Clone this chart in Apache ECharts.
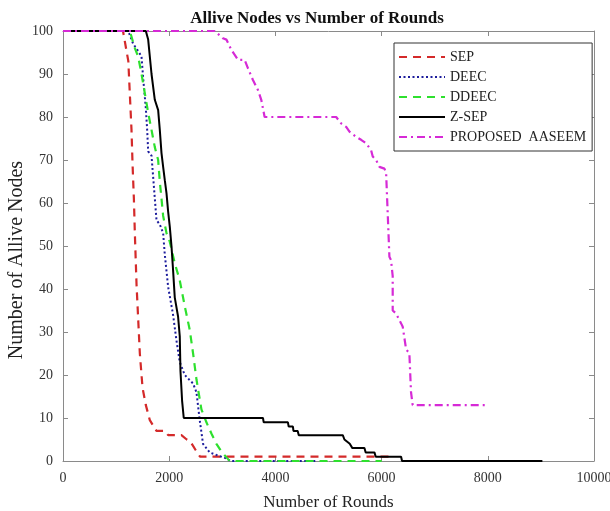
<!DOCTYPE html>
<html>
<head>
<meta charset="utf-8">
<script src="https://cdn.jsdelivr.net/npm/echarts@6/dist/echarts.min.js"></script>
<style>html,body{margin:0;padding:0;background:#fff;}#c{width:610px;height:511px;}</style>
</head>
<body>
<div id="c"></div>
<script>
var seriesNames = ['SEP', 'DEEC', 'DDEEC', 'Z-SEP', 'PROPOSED  AASEEM'];
var xTicks = [0, 2000, 4000, 6000, 8000, 10000];
var yTicks = [0, 10, 20, 30, 40, 50, 60, 70, 80, 90, 100];

var sep = [[0,100],[1130,100],[1230,93],[1260,85],[1290,77],[1310,69],[1335,61],[1353,53],[1385,41],[1416,33],[1447,25],[1498,17],[1560,13],[1635,9.5],[1760,7],[1920,7],[1980,6],[2230,6],[2330,5],[2400,4.5],[2500,2.5],[2580,1],[6130,1],[6160,0]];
var deec = [[0,100],[1228,100],[1322,97],[1435,95],[1479,94],[1510,89],[1560,82],[1585,77],[1604,72],[1667,71],[1698,66],[1761,56],[1823,55],[1886,53],[1917,48],[1980,40.5],[2073,34],[2137,28],[2199,23],[2293,20],[2450,18],[2513,16],[2575,9.5],[2637,4],[2763,2],[2889,1.4],[3077,0.6],[3150,0],[4770,0]];
var ddeec = [[0,100],[1259,100],[1353,96],[1416,94],[1479,90],[1541,85.5],[1604,81],[1667,77],[1729,73],[1792,70],[1823,65],[1855,61],[1886,57],[1949,53],[2011,51],[2105,46],[2199,42],[2293,36],[2387,30.5],[2450,25],[2513,19],[2607,12],[2701,9],[2795,6.4],[2889,4],[2983,2.2],[3139,0],[6000,0]];
var zsep = [[0,100],[1560,100],[1604,98],[1667,90],[1729,84],[1792,81.6],[1823,77],[1855,71.6],[1886,68.4],[1917,65.3],[1949,62.3],[1980,58],[2011,54.5],[2043,50],[2073,44.4],[2105,38],[2167,33.6],[2199,29],[2212,21],[2243,14],[2274,10],[3766,10],[3780,9],[4236,9],[4250,8],[4330,8],[4340,7],[4420,7],[4440,6],[5269,6],[5300,5],[5400,4],[5450,3],[5677,3],[5700,2],[5865,2],[5890,1],[6367,1],[6385,0],[9028,0]];
var aaseem = [[0,100],[2857,100],[3013,98.3],[3077,98],[3171,95.6],[3296,93.3],[3421,93.3],[3484,91.3],[3577,88.6],[3671,86.3],[3734,84],[3797,80],[5144,80],[5238,78.5],[5333,77.7],[5395,76.6],[5520,75.4],[5614,74.7],[5708,73.9],[5802,72.3],[5833,70.8],[5896,70],[5959,68.4],[6053,68],[6085,67],[6147,47.5],[6178,46.7],[6209,43],[6209,35],[6272,34.3],[6367,32],[6398,31.2],[6461,26],[6523,25],[6554,16],[6585,13],[8013,13]];

var serif = 'Liberation Serif';
var axisColor = '#8a8a8a';
var chart = echarts.init(document.getElementById('c'), null, {renderer: 'canvas'});

function mkSeries(name, data, color, type, width) {
  return {
    name: name, type: 'line', data: data, symbol: 'none', showSymbol: false,
    xAxisIndex: 0, yAxisIndex: 0, animation: false,
    lineStyle: {color: color, width: width, type: type},
    itemStyle: {color: color}
  };
}

chart.setOption({
  animation: false,
  title: {
    text: 'Allive Nodes vs Number of Rounds', left: 312, top: 5, textAlign: 'center',
    textStyle: {fontFamily: serif, fontWeight: 'bold', fontSize: 17, color: '#111'}
  },
  legend: {
    orient: 'vertical', left: 394, top: 43,
    data: seriesNames,
    itemWidth: 46, itemHeight: 14, itemGap: 6,
    padding: [7, 6, 7, 4],
    borderColor: '#333', borderWidth: 1, backgroundColor: '#fff', borderRadius: 0,
    itemStyle: {color: 'rgba(0,0,0,0)', borderWidth: 0, opacity: 0},
    textStyle: {fontFamily: serif, fontSize: 14, color: '#222'}
  },
  grid: {left: 63, right: 16, top: 31, bottom: 50, containLabel: false, outerBoundsMode: 'none'},
  xAxis: [{
    type: 'value', min: 0, max: 10000, interval: 2000, position: 'bottom',
    name: 'Number of Rounds', nameLocation: 'middle', nameGap: 33, nameMoveOverlap: false,
    nameTextStyle: {fontFamily: serif, fontSize: 17, color: '#222'},
    axisLine: {show: true, onZero: false, lineStyle: {color: axisColor}},
    axisTick: {show: true, inside: true, length: 5, lineStyle: {color: axisColor}},
    axisLabel: {fontFamily: serif, fontSize: 14, color: '#333', margin: 10,
      formatter: function (v) { return xTicks.indexOf(v) >= 0 ? String(v) : ''; }},
    splitLine: {show: false}
  }, {
    type: 'value', min: 0, max: 10000, interval: 2000, position: 'top',
    axisLine: {show: true, onZero: false, lineStyle: {color: axisColor}},
    axisTick: {show: true, inside: true, length: 5, lineStyle: {color: axisColor}},
    axisLabel: {show: false}, splitLine: {show: false}
  }],
  yAxis: [{
    type: 'value', min: 0, max: 100, interval: 10, position: 'left',
    name: 'Number of Allive Nodes', nameLocation: 'middle', nameGap: 36, nameRotate: 90, nameMoveOverlap: false,
    nameTextStyle: {fontFamily: serif, fontSize: 20, color: '#222', padding: [0, 28, 0, 0]},
    axisLine: {show: true, onZero: false, lineStyle: {color: axisColor}},
    axisTick: {show: true, inside: true, length: 5, lineStyle: {color: axisColor}},
    axisLabel: {fontFamily: serif, fontSize: 14, color: '#333', margin: 10,
      formatter: function (v) { return yTicks.indexOf(v) >= 0 ? String(v) : ''; }},
    splitLine: {show: false}
  }, {
    type: 'value', min: 0, max: 100, interval: 10, position: 'right',
    axisLine: {show: true, onZero: false, lineStyle: {color: axisColor}},
    axisTick: {show: true, inside: true, length: 5, lineStyle: {color: axisColor}},
    axisLabel: {show: false}, splitLine: {show: false}
  }],
  series: [
    mkSeries(seriesNames[0], sep, '#d42a2a', [8, 6], 2.2),
    mkSeries(seriesNames[1], deec, '#1c1c9c', [2, 2.5], 2),
    mkSeries(seriesNames[2], ddeec, '#2ee02e', [8, 6], 2.2),
    mkSeries(seriesNames[3], zsep, '#000000', 'solid', 2),
    mkSeries(seriesNames[4], aaseem, '#d62ad6', [8, 4, 2, 4], 2.2)
  ]
});
</script>
</body>
</html>
